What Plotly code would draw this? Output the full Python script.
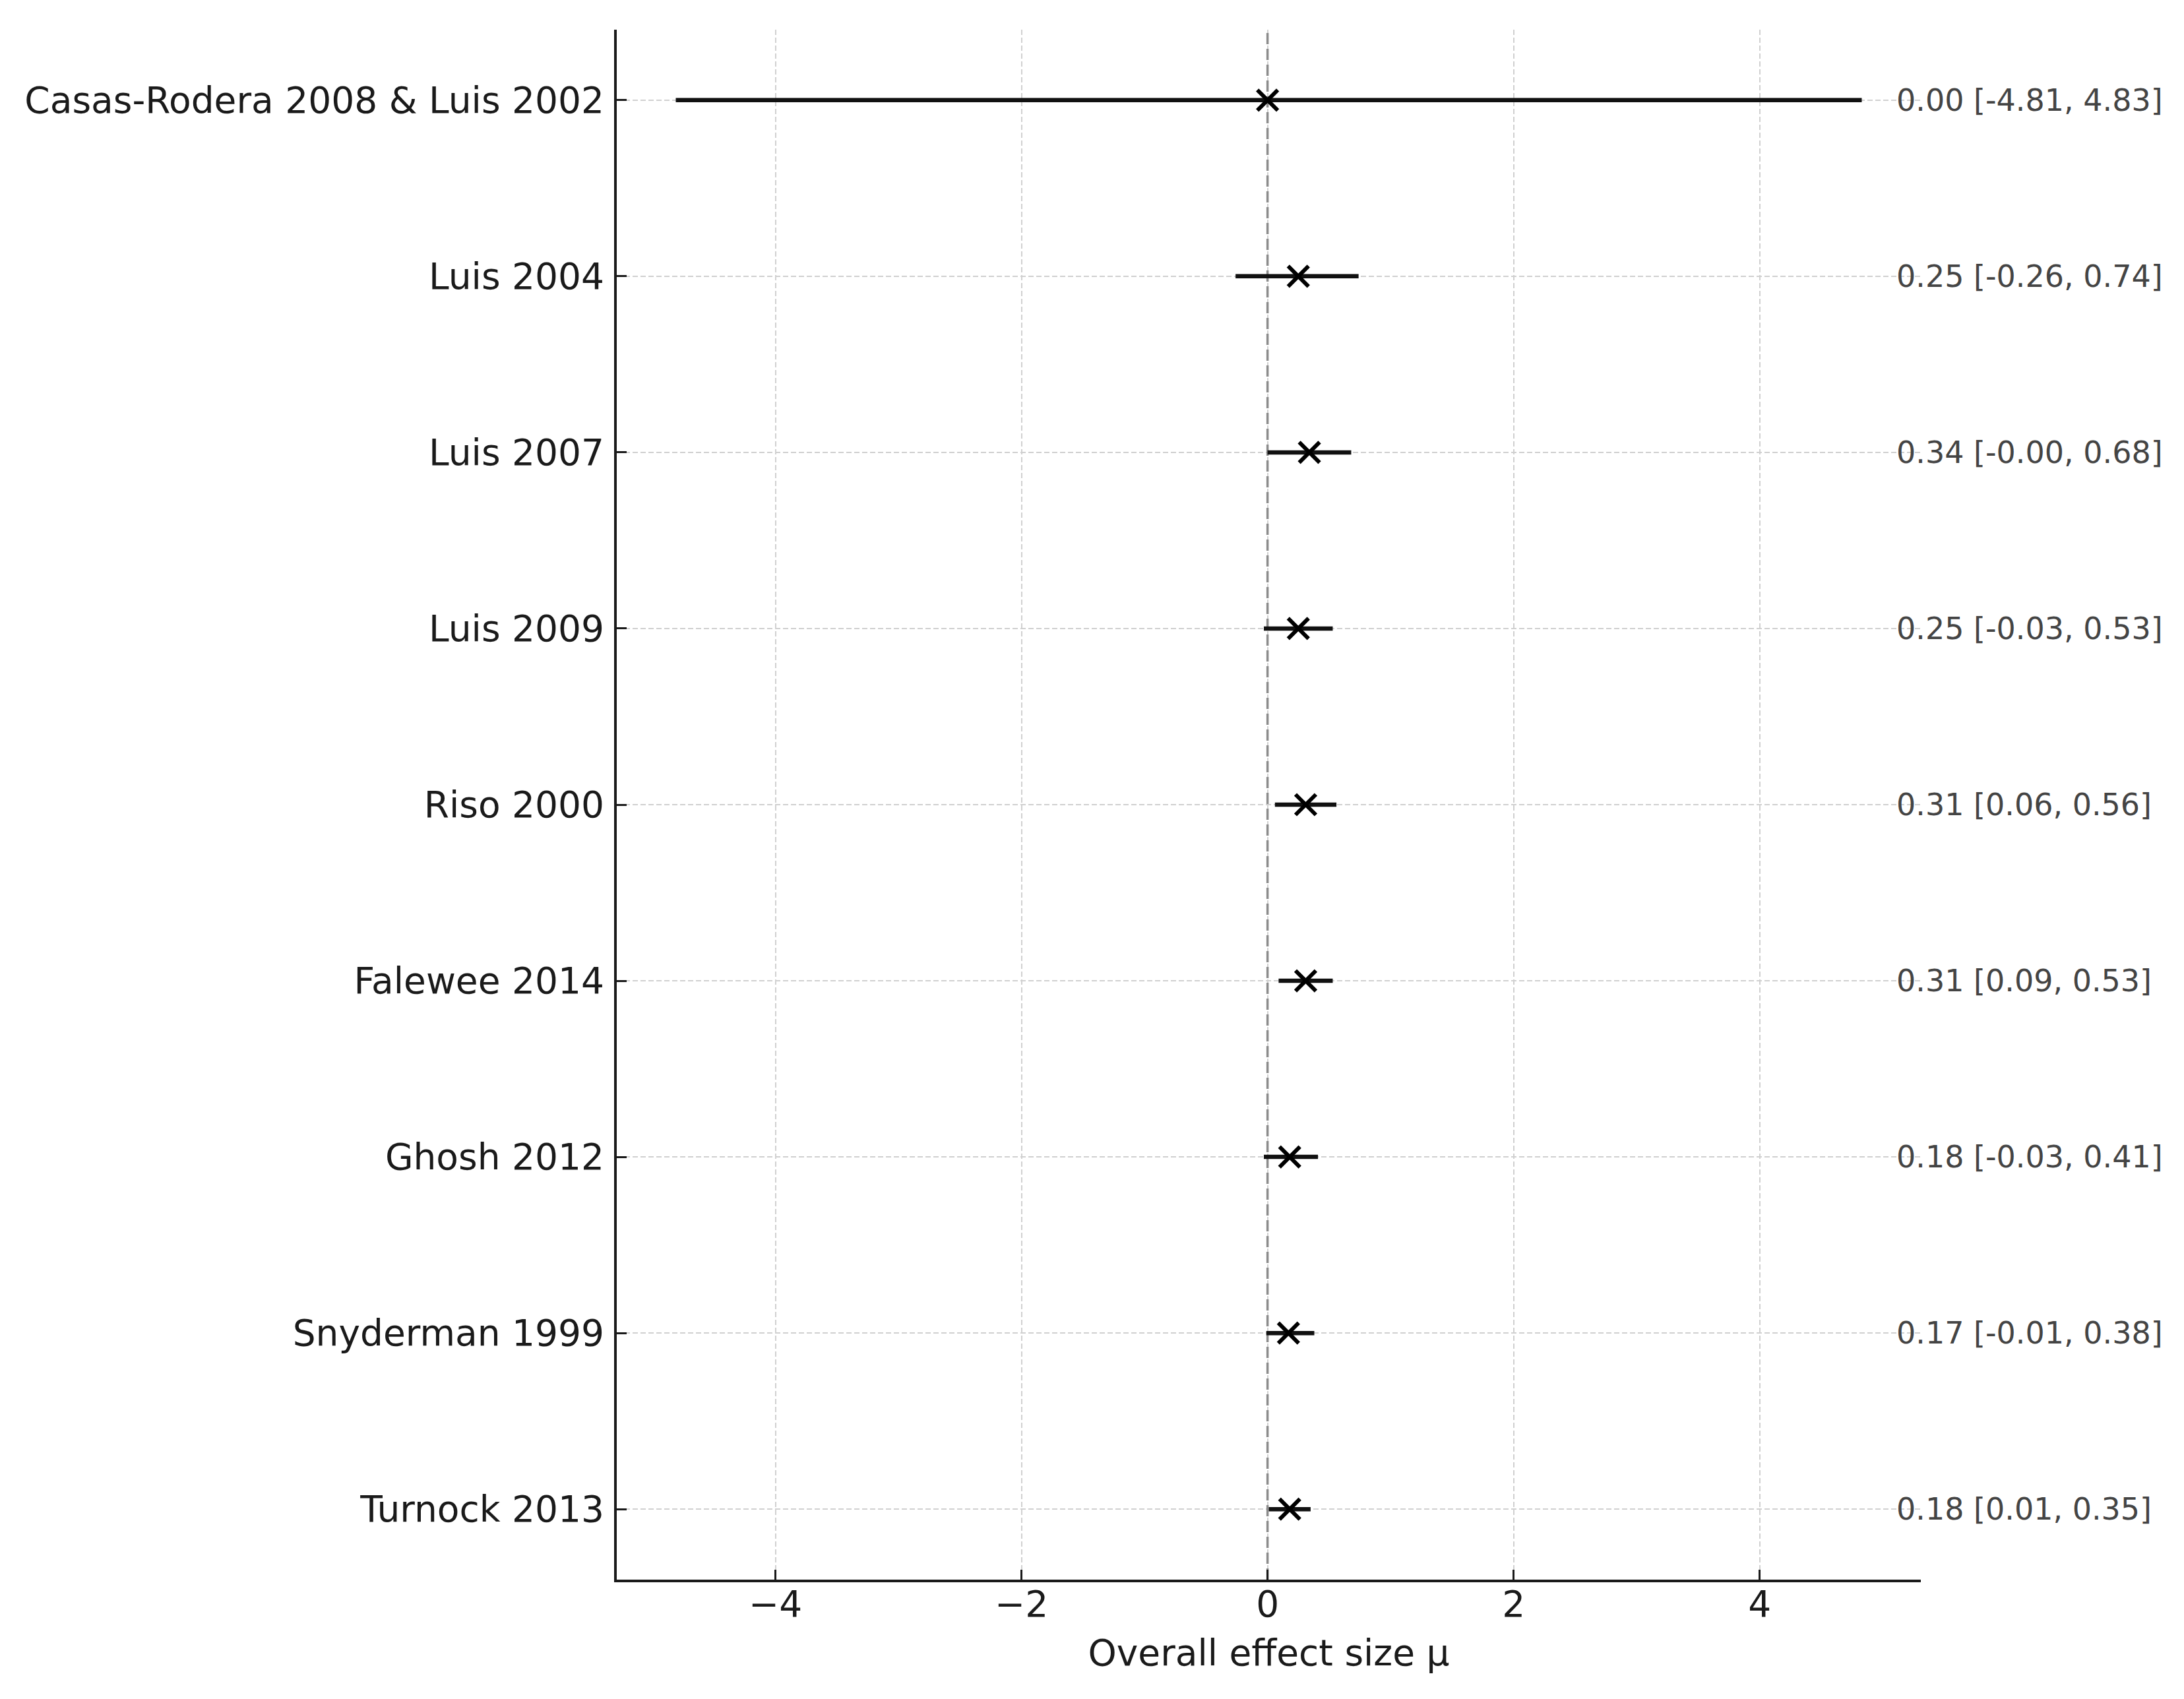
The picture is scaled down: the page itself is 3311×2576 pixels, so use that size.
import plotly.graph_objects as go

studies = [
    "Casas-Rodera 2008 & Luis 2002",
    "Luis 2004",
    "Luis 2007",
    "Luis 2009",
    "Riso 2000",
    "Falewee 2014",
    "Ghosh 2012",
    "Snyderman 1999",
    "Turnock 2013",
]
effect_mean = [0.00, 0.25, 0.34, 0.25, 0.31, 0.31, 0.18, 0.17, 0.18]
ci_lower = [-4.81, -0.26, -0.00, -0.03, 0.06, 0.09, -0.03, -0.01, 0.01]
ci_upper = [4.83, 0.74, 0.68, 0.53, 0.56, 0.53, 0.41, 0.38, 0.35]
x_ticks = [-4, -2, 0, 2, 4]
y_range = [8.4, -0.4]

rows = list(range(len(studies)))
err_plus = [u - m for u, m in zip(ci_upper, effect_mean)]
err_minus = [m - l for m, l in zip(effect_mean, ci_lower)]

FONT = "DejaVu Sans"
INK = "#1a1a1a"

fig = go.Figure()
# reference line at zero effect
fig.add_trace(go.Scatter(
    x=[0, 0], y=y_range, mode="lines",
    line=dict(color="#8c8c8c", width=3.5, dash="17px,7px"),
    showlegend=False, hoverinfo="skip",
))
fig.add_trace(go.Scatter(
    x=effect_mean,
    y=rows,
    mode="markers",
    marker=dict(symbol="x-thin", size=31, color="black",
                line=dict(width=6, color="black")),
    error_x=dict(type="data", symmetric=False, array=err_plus,
                 arrayminus=err_minus, thickness=6.5, width=0, color="#111111"),
    showlegend=False,
    cliponaxis=False,
))

for i, (m, lo, hi) in enumerate(zip(effect_mean, ci_lower, ci_upper)):
    fig.add_annotation(
        x=5.1, y=i, xref="x", yref="y",
        text=f"{m:.2f} [{lo:.2f}, {hi:.2f}]",
        showarrow=False, xanchor="left", yanchor="middle",
        font=dict(family=FONT, size=46, color="#444444"),
    )

fig.update_layout(
    width=3303, height=2568,
    margin=dict(l=927, r=399, t=37, b=181, autoexpand=False),
    paper_bgcolor="white", plot_bgcolor="white",
    font=dict(family=FONT, size=55, color=INK),
)

fig.update_xaxes(
    range=[-5.29, 5.31],
    tickvals=x_ticks,
    ticktext=["\u22124", "\u22122", "0", "2", "4"],
    ticks="inside", ticklen=15, tickwidth=3, tickcolor=INK,
    showline=True, linecolor=INK, linewidth=4,
    showgrid=True, gridcolor="#d0d0d0", gridwidth=2, griddash="8px,4px",
    zeroline=False,
    ticklabelstandoff=-14,
    tickfont=dict(family=FONT, size=55, color=INK),
    title=dict(text="Overall effect size \u03bc", standoff=24,
               font=dict(family=FONT, size=55, color=INK)),
    automargin=False,
)

fig.update_yaxes(
    range=y_range,
    tickvals=rows,
    ticktext=studies,
    ticks="inside", ticklen=15, tickwidth=3, tickcolor=INK,
    showline=True, linecolor=INK, linewidth=4,
    showgrid=True, gridcolor="#d0d0d0", gridwidth=2, griddash="8px,4px",
    zeroline=False,
    ticklabelstandoff=4,
    tickfont=dict(family=FONT, size=55, color=INK),
    automargin=False,
)

fig.write_html("out.html")
